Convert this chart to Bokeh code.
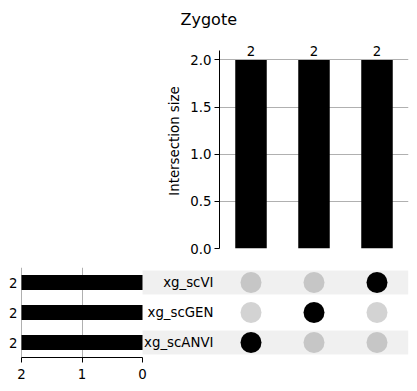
from bokeh.plotting import figure
from bokeh.models import (Range1d, FixedTicker, PrintfTickFormatter, LinearAxis, Grid,
                          ColumnDataSource, LabelSet, Title)
from bokeh.core.properties import value
from bokeh.embed import file_html
from bokeh.resources import INLINE

# ---------------- data ----------------
title_text = "Zygote"
set_names = ["xg_scANVI", "xg_scGEN", "xg_scVI"]          # bottom -> top rows
set_totals = [2, 2, 2]
intersection_members = [["xg_scANVI"], ["xg_scGEN"], ["xg_scVI"]]
intersection_sizes = [2, 2, 2]
size_ticks = [0.0, 0.5, 1.0, 1.5, 2.0]
total_ticks = [0, 1, 2]
size_axis_label = "Intersection size"

# ---------------- layout constants ----------------
FONT = "DejaVu Sans"
FS = "13.33px"
GRID = "#b0b0b0"
W = 417
UNIT = 63        # px per intersection column
TOTALS_W = 121   # px of totals bars
LABEL_W = 77     # px of set-name area
LEFT_PAD = 21    # px left of totals bars (count labels)
RIGHT = 9
n_i = len(intersection_sizes)
n_s = len(set_names)
TOP_LEFT = LEFT_PAD + TOTALS_W + LABEL_W

# ---------------- top: intersection sizes ----------------
TOP_BORDER = 33
PLOT_H = 198     # px from 0 to ymax
HEAD_PAD = 17    # px above ymax kept inside the frame for bar labels
ymax = max(intersection_sizes) * 1.05
y_end = ymax * (PLOT_H + HEAD_PAD) / PLOT_H
p_top = figure(width=W, height=TOP_BORDER + PLOT_H + HEAD_PAD + 9,
               x_range=Range1d(-0.5, n_i - 0.5), y_range=Range1d(0, y_end),
               output_backend="svg", toolbar_location=None, x_axis_location=None,
               min_border_left=TOP_LEFT, min_border_right=RIGHT,
               min_border_top=TOP_BORDER, min_border_bottom=9)
p_top.outline_line_color = None
p_top.xgrid.visible = False
p_top.ygrid.grid_line_color = GRID
p_top.ygrid.grid_line_width = 1
p_top.ygrid.ticker = FixedTicker(ticks=size_ticks)

src_top = ColumnDataSource(dict(x=list(range(n_i)), top=intersection_sizes,
                                label=[str(v) for v in intersection_sizes]))
p_top.vbar(x="x", top="top", width=0.5, source=src_top, fill_color="black", line_color=None)
p_top.add_layout(LabelSet(x="x", y="top", text="label", source=src_top, text_align="center",
                          text_baseline="bottom", y_offset=4, text_font=value(FONT),
                          text_font_size=FS, text_color="black"))

ya = p_top.yaxis[0]
ya.ticker = FixedTicker(ticks=size_ticks)
ya.formatter = PrintfTickFormatter(format="%.1f")
ya.bounds = (0, ymax)
ya.minor_tick_line_color = None
ya.major_tick_in = 0
ya.major_tick_out = 5
ya.major_label_text_font = FONT
ya.major_label_text_font_size = FS
ya.major_label_text_color = "black"
ya.axis_label = size_axis_label
ya.axis_label_text_font = FONT
ya.axis_label_text_font_size = FS
ya.axis_label_text_font_style = "normal"
ya.axis_label_text_color = "black"
ya.axis_label_standoff = 5
ya.major_label_standoff = 3

# figure-centred title: offset from the frame's left edge
p_top.add_layout(Title(text=title_text, align="left", offset=-39, text_font=FONT,
                       text_font_size="16px", text_font_style="normal", text_color="black"),
                 "above")

# ---------------- bottom: totals + matrix ----------------
frame_w = LEFT_PAD + TOTALS_W + LABEL_W + n_i * UNIT
mx_start = -0.5 - (LEFT_PAD + TOTALS_W + LABEL_W) / UNIT
tmax = max(set_totals)
t_start = tmax + LEFT_PAD * tmax / TOTALS_W
t_end = t_start - frame_w * tmax / TOTALS_W

p_bot = figure(width=W, height=134, x_range=Range1d(mx_start, n_i - 0.5),
               y_range=Range1d(-0.5, n_s - 0.5),
               output_backend="svg", toolbar_location=None,
               x_axis_location=None, y_axis_location=None,
               min_border_left=0, min_border_right=RIGHT, min_border_top=10, min_border_bottom=34)
p_bot.extra_x_ranges = {"totals": Range1d(t_start, t_end)}
p_bot.outline_line_color = None
p_bot.xgrid.visible = False
p_bot.ygrid.visible = False

rows = list(range(n_s))
src_tot = ColumnDataSource(dict(y=rows, right=set_totals, label=[str(v) for v in set_totals]))
p_bot.add_layout(Grid(dimension=0, ticker=FixedTicker(ticks=[t for t in total_ticks if t > 0]),
                      x_range_name="totals", grid_line_color=GRID, grid_line_width=1))
p_bot.hbar(y="y", left=0, right="right", height=0.5, source=src_tot, x_range_name="totals",
           fill_color="black", line_color=None)
p_bot.add_layout(LabelSet(x="right", y="y", text="label", source=src_tot, x_range_name="totals",
                          text_align="right", text_baseline="middle", x_offset=-4,
                          text_font=value(FONT), text_font_size=FS, text_color="black"))

ta = LinearAxis(x_range_name="totals", ticker=FixedTicker(ticks=total_ticks), bounds=(0, tmax))
ta.minor_tick_line_color = None
ta.major_tick_in = 0
ta.major_tick_out = 5
ta.major_label_standoff = 6
ta.major_label_text_font = FONT
ta.major_label_text_font_size = FS
ta.major_label_text_color = "black"
p_bot.add_layout(ta, "below")

# matrix dots
dx, dy, dc = [], [], []
for i, members in enumerate(intersection_members):
    for r, name in enumerate(set_names):
        dx.append(i)
        dy.append(r)
        dc.append("black" if name in members else "#d3d3d3")
p_bot.scatter(x=dx, y=dy, size=21, fill_color=dc, line_color=None)

# set labels
p_bot.text(x=-0.5, y=rows, text=set_names, x_offset=-6, text_align="right",
           text_baseline="middle", text_font=value(FONT), text_font_size=FS, text_color="black")

# row shading (translucent, drawn on top)
shade_rows = [r for r in rows if r % 2 == 0]
p_bot.hbar(y=shade_rows, left=-0.5 - LABEL_W / UNIT, right=n_i - 0.5, height=0.8,
           fill_color="black", fill_alpha=0.06, line_color=None)

open("out.html", "w").write(file_html([p_top, p_bot], INLINE))
